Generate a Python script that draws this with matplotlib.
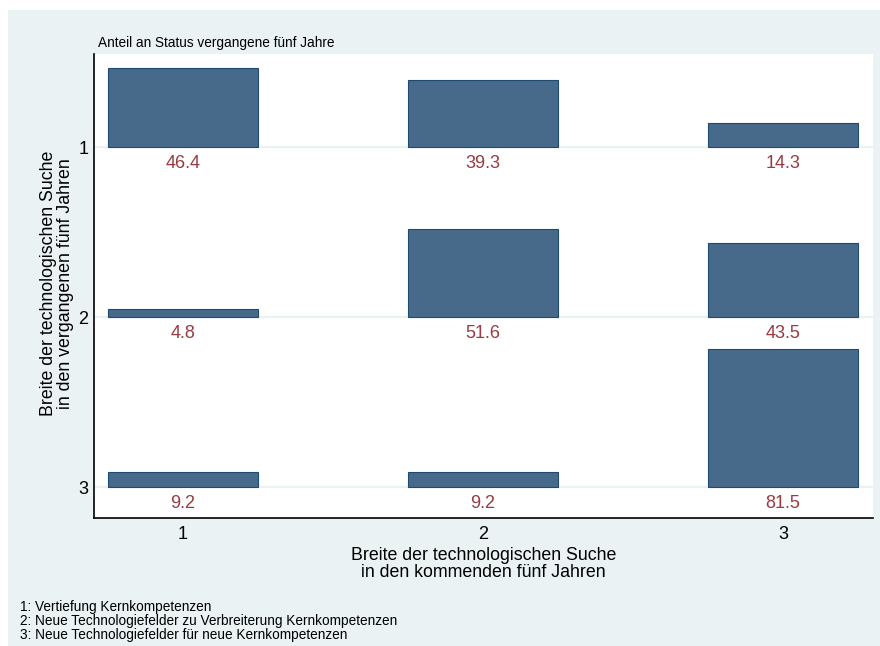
import matplotlib
matplotlib.use("Agg")
import matplotlib.pyplot as plt
from matplotlib.patches import Rectangle
import numpy as np

plt.rcParams['font.family'] = ['Liberation Sans', 'DejaVu Sans']

# Data
future_cats = [1, 2, 3]          # x: Breite kommende fünf Jahre
past_cats = [1, 2, 3]            # y: Breite vergangene fünf Jahre
shares = {                       # Anteil (%) per past row
    1: [46.4, 39.3, 14.3],
    2: [4.8, 51.6, 43.5],
    3: [9.2, 9.2, 81.5],
}
tick_labels = ["1", "2", "3"]
notes = ["1: Vertiefung Kernkompetenzen",
         "2: Neue Technologiefelder zu Verbreiterung Kernkompetenzen",
         "3: Neue Technologiefelder für neue Kernkompetenzen"]

W, H = 880, 646
fig = plt.figure(figsize=(W / 100, H / 100), dpi=100)
fig.patch.set_facecolor('white')
bg = Rectangle((8 / W, 0), 1 - 8 / W, 1 - 10 / H, transform=fig.transFigure,
               facecolor='#EAF2F3', edgecolor='none', zorder=-10)
fig.add_artist(bg)

ax = fig.add_axes([94 / W, 1 - 518 / H, (873 - 94) / W, (518 - 54) / H])
ax.set_zorder(1)
ax.set_facecolor('white')
ax.set_xlim(0.703, 3.30)
ax.set_ylim(3.18, 0.453)

for yv in past_cats:
    ax.axhline(yv, color='#EAF2F3', lw=1.6, zorder=1)

bar_color = '#486A8A'
edge_color = '#1F4A70'
label_color = '#9A3A42'
for row in past_cats:
    vals = np.array(shares[row]) / 100.0
    ax.bar(future_cats, vals, bottom=row - vals, width=0.5,
           color=bar_color, edgecolor=edge_color, linewidth=0.8, zorder=2)
    for x, v in zip(future_cats, shares[row]):
        ax.text(x, row + 0.095, f"{v:.1f}", ha='center', va='center',
                fontsize=13, color=label_color, zorder=3)

ax.set_xticks(future_cats)
ax.set_xticklabels(tick_labels)
ax.set_yticks(past_cats)
ax.set_yticklabels(tick_labels)
ax.tick_params(axis='both', length=0, labelsize=13)
ax.tick_params(axis='x', pad=6)
ax.tick_params(axis='y', pad=4)
for s in ['top', 'right']:
    ax.spines[s].set_visible(False)
for s in ['left', 'bottom']:
    ax.spines[s].set_linewidth(1.2)
    ax.spines[s].set_color('black')

ax.set_xlabel("Breite der technologischen Suche\nin den kommenden fünf Jahren",
              fontsize=12.8, labelpad=2.5, linespacing=0.98)
ax.set_ylabel("Breite der technologischen Suche\nin den vergangenen fünf Jahren",
              fontsize=12.8, labelpad=3.5, linespacing=0.98, y=0.505)

fig.text(98 / W, 1 - 43 / H, "Anteil an Status vergangene fünf Jahre",
         fontsize=9.8, va='center', ha='left')
fig.text(20 / W, 1 - 620.5 / H, "\n".join(notes), fontsize=9.8, va='center',
         ha='left', linespacing=1.0)

fig.savefig("out.png", dpi=100)
